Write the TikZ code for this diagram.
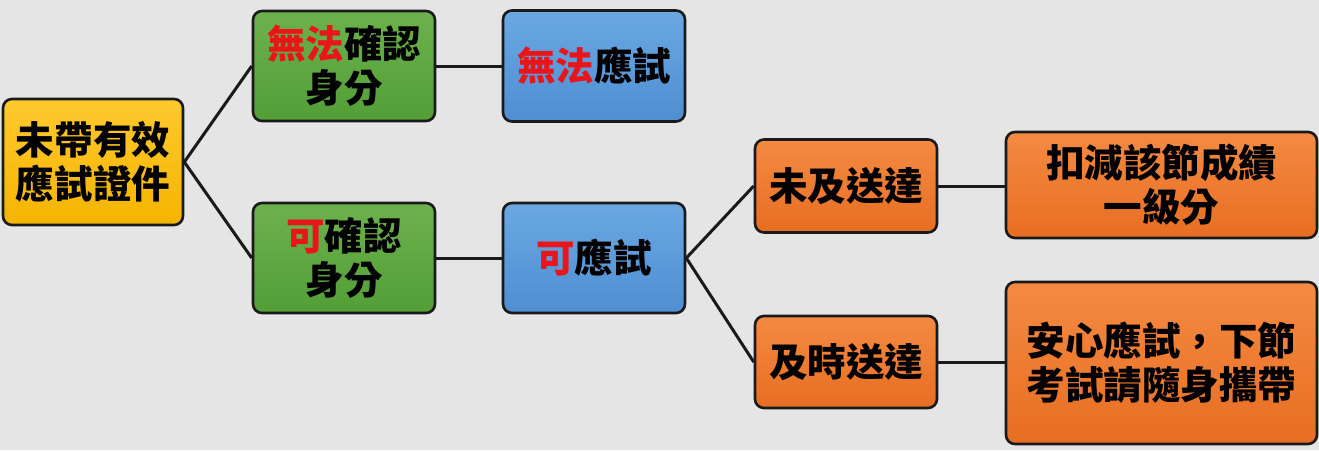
\documentclass[tikz,border=0pt]{standalone}
\usepackage{fontspec}
\newfontfamily\cjk{Noto Sans CJK TC}
\usetikzlibrary{shadings}
\definecolor{bgc}{HTML}{E5E5E5}
\definecolor{redtxt}{HTML}{E8161B}
\definecolor{yelT}{HTML}{FFC92E}\definecolor{yelB}{HTML}{F4B400}
\definecolor{grnT}{HTML}{6CB24C}\definecolor{grnB}{HTML}{539E36}
\definecolor{bluT}{HTML}{6BA8E2}\definecolor{bluB}{HTML}{4E8ED2}
\definecolor{orgT}{HTML}{F48A42}\definecolor{orgB}{HTML}{E76E22}
\definecolor{edge}{HTML}{1A1A1A}
\tikzset{
  box/.style={rounded corners=9pt, draw=edge, line width=2.6pt, align=center,
    inner sep=0pt, font=\cjk\bfseries\fontsize{38.5}{44}\selectfont, text=black},
  yel/.style={box, top color=yelT, bottom color=yelB},
  grn/.style={box, top color=grnT, bottom color=grnB},
  blu/.style={box, top color=bluT, bottom color=bluB},
  org/.style={box, top color=orgT, bottom color=orgB},
  link/.style={draw=edge, line width=3pt}
}
\newcommand{\rd}[1]{{\color{redtxt}#1}}
\begin{document}
\begin{tikzpicture}[x=1pt,y=-1pt]
\fill[bgc] (0,0) rectangle (1319,450);
\useasboundingbox (0,0) rectangle (1319,450);
\node[yel, minimum width=180pt, minimum height=126pt] (root) at (93,162) {未帶有效\\應試證件};
\node[grn, minimum width=182pt, minimum height=110pt] (g1) at (344,66) {\rd{無法}確認\\身分};
\node[grn, minimum width=182pt, minimum height=110pt] (g2) at (344,258) {\rd{可}確認\\身分};
\node[blu, minimum width=182pt, minimum height=111pt] (b1) at (594,66) {\rd{無法}應試};
\node[blu, minimum width=182pt, minimum height=110pt] (b2) at (594,258) {\rd{可}應試};
\node[org, minimum width=182pt, minimum height=93pt] (o1) at (846,186) {未及送達};
\node[org, minimum width=182pt, minimum height=92pt] (o2) at (846,362) {及時送達};
\node[org, minimum width=311pt, minimum height=106pt] (r1) at (1161.5,185) {扣減該節成績\\一級分};
\node[org, minimum width=311pt, minimum height=162pt] (r2) at (1161.5,363) {安心應試，下節\\考試請隨身攜帶};
\draw[link] (root.east) -- (g1.west);
\draw[link] (root.east) -- (g2.west);
\draw[link] (g1.east) -- (b1.west);
\draw[link] (g2.east) -- (b2.west);
\draw[link] (b2.east) -- (o1.west);
\draw[link] (b2.east) -- (o2.west);
\draw[link] (o1.east) -- (r1.west |- o1.east);
\draw[link] (o2.east) -- (r2.west |- o2.east);
\end{tikzpicture}
\end{document}
